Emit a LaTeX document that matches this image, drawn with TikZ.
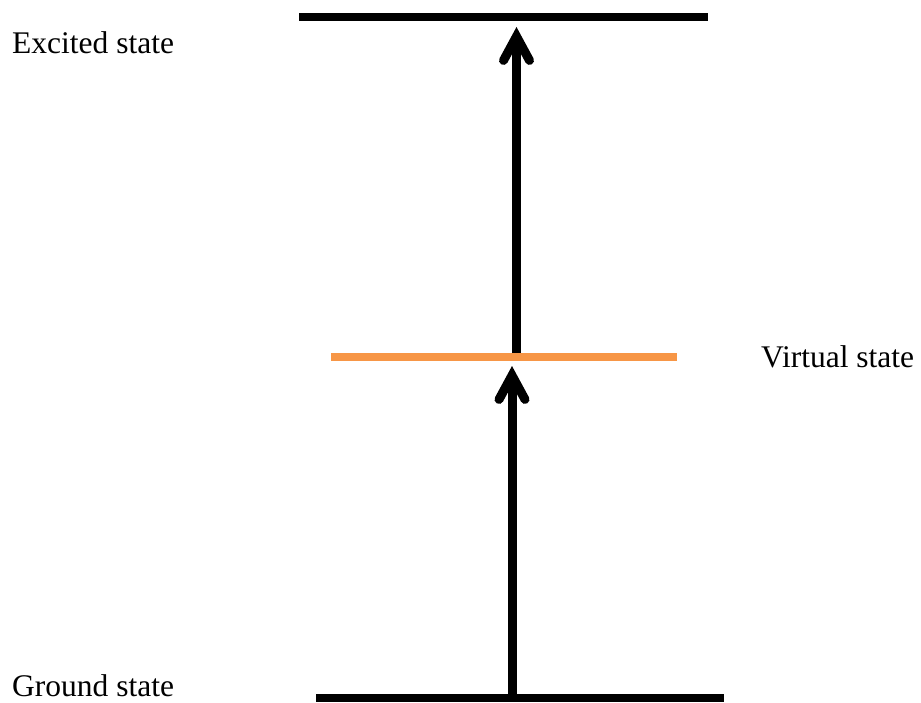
\documentclass[tikz,border=0pt]{standalone}
\usepackage{fontspec}
\setmainfont{Liberation Serif}
\usetikzlibrary{arrows.meta}
\definecolor{virtorange}{HTML}{F79646}
\begin{document}
\begin{tikzpicture}[x=1pt,y=-1pt,
  level/.style={line width=8pt},
  transition/.style={line width=9pt,-{Straight Barb[length=24pt,width=26pt,line cap=round,line join=miter]}},
  label/.style={anchor=base west,inner sep=0pt,font=\fontsize{31.5}{38}\selectfont}]
\useasboundingbox (0,0) rectangle (921,703);
% levels
\coordinate (exL) at (299,17);
\coordinate (exR) at (708,17);
\coordinate (viL) at (331,357);
\coordinate (viR) at (677,357);
\coordinate (grL) at (316,698);
\coordinate (grR) at (724,698);
\draw[level] (exL) -- (exR);
\draw[level,virtorange] (viL) -- (viR);
\draw[level] (grL) -- (grR);
% arrows
\coordinate (a1s) at (512,694);
\coordinate (a1e) at (512,366);
\coordinate (a2s) at (516.5,353);
\coordinate (a2e) at (516.5,27);
\draw[transition] (a1s) -- (a1e);
\draw[transition] (a2s) -- (a2e);
% labels
\node[label] (ex) at (12,54) {Excited state};
\node[label] (vi) at (761,367) {Virtual state};
\node[label] (gr) at (12,696) {Ground state};
\end{tikzpicture}
\end{document}
